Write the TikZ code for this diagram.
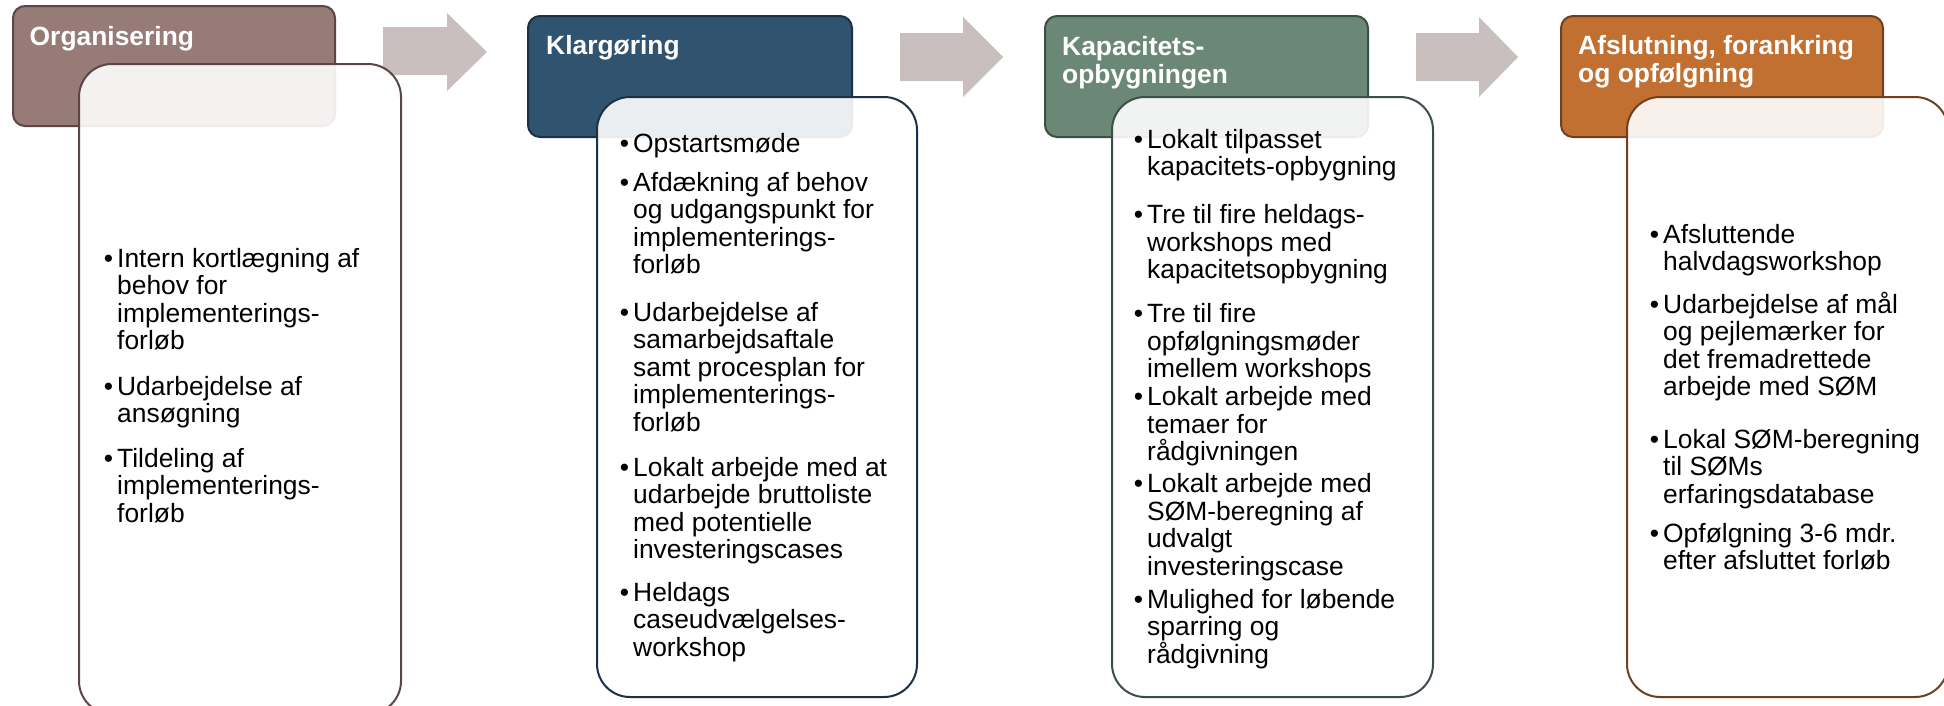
\documentclass[tikz,border=0pt]{standalone}
\usepackage{fontspec}
\setmainfont{Liberation Sans}
\definecolor{aFill}{HTML}{977B77}
\definecolor{aLine}{HTML}{5A4744}
\definecolor{bFill}{HTML}{30536F}
\definecolor{bLine}{HTML}{1C3145}
\definecolor{cFill}{HTML}{6B8877}
\definecolor{cLine}{HTML}{3D4E45}
\definecolor{dFill}{HTML}{C17031}
\definecolor{dLine}{HTML}{6D4020}
\definecolor{arrowC}{HTML}{C9BFBE}
\newcommand\itm[1]{\vtop{\baselineskip=27.6pt\lineskiplimit=-60pt\lineskip=0pt #1}}
\newcommand\hitm[1]{\vtop{\baselineskip=28pt\lineskiplimit=-60pt\lineskip=0pt #1}}
\newcommand\lin[1]{\hbox{#1}}
\newcommand\bul{\llap{\textbullet\hspace{4pt}}}
\tikzset{
  hdr/.style={rectangle, rounded corners=12pt, minimum width=323pt, minimum height=121pt, inner sep=0pt, line width=2pt},
  bodybox/.style={rectangle, rounded corners=33pt, minimum width=321pt, minimum height=600pt, inner sep=0pt, line width=2pt, fill=white, fill opacity=0.9},
  blockarrow/.style={fill=arrowC},
  txt/.style={anchor=base west, inner sep=0pt, font=\fontsize{26.4pt}{27.6pt}\selectfont},
  htxt/.style={anchor=base west, inner sep=0pt, text=white, font=\fontsize{26.4pt}{28pt}\selectfont\bfseries}
}
\begin{document}
\begin{tikzpicture}[x=1pt,y=-1pt]
\clip (0,0) rectangle (1944,705);
\fill[white] (0,0) rectangle (1944,705);

% block arrows
\fill[blockarrow] (383,27) -- (447,27) -- (447,13) -- (487,52) -- (447,91) -- (447,75) -- (383,75) -- cycle;
\fill[blockarrow] (900,33) -- (963,33) -- (963,17) -- (1003,57) -- (963,97) -- (963,81) -- (900,81) -- cycle;
\fill[blockarrow] (1416,33) -- (1479,33) -- (1479,17) -- (1518,57) -- (1479,97) -- (1479,81) -- (1416,81) -- cycle;

% headers
\node[hdr, fill=aFill, draw=aLine, minimum width=322pt, minimum height=120pt] (h1) at (174,66) {};
\node[hdr, fill=bFill, draw=bLine, minimum width=324pt] (h2) at (690,76.5) {};
\node[hdr, fill=cFill, draw=cLine] (h3) at (1206.5,76.5) {};
\node[hdr, fill=dFill, draw=dLine, minimum width=322pt] (h4) at (1722,76.5) {};

% bodies
\node[bodybox, draw=aLine, minimum width=322pt, minimum height=650pt] (b1) at (240,389) {};
\node[bodybox, draw=bLine, minimum width=320pt] (b2) at (757,397) {};
\node[bodybox, draw=cLine] (b3) at (1272.5,397) {};
\node[bodybox, draw=dLine] (b4) at (1787.5,397) {};

% header texts
\node[htxt] (ht1) at (29.5,45) {\hitm{\lin{Organisering}}};
\node[htxt] (ht2) at (546,54) {\hitm{\lin{Klargøring}}};
\node[htxt] (ht3) at (1062,55) {\hitm{\lin{Kapacitets-}\lin{opbygningen}}};
\node[htxt] (ht4) at (1578,54) {\hitm{\lin{Afslutning, forankring}\lin{og opfølgning}}};

% column 1
\node[txt] (a1) at (117,267) {\itm{\lin{\bul Intern kortlægning af}\lin{behov for}\lin{implementerings-}\lin{forløb}}};
\node[txt] (a2) at (117,395) {\itm{\lin{\bul Udarbejdelse af}\lin{ansøgning}}};
\node[txt] (a3) at (117,467) {\itm{\lin{\bul Tildeling af}\lin{implementerings-}\lin{forløb}}};

% column 2
\node[txt] (k1) at (633,152) {\itm{\lin{\bul Opstartsmøde}}};
\node[txt] (k2) at (633,191) {\itm{\lin{\bul Afdækning af behov}\lin{og udgangspunkt for}\lin{implementerings-}\lin{forløb}}};
\node[txt] (k3) at (633,321) {\itm{\lin{\bul Udarbejdelse af}\lin{samarbejdsaftale}\lin{samt procesplan for}\lin{implementerings-}\lin{forløb}}};
\node[txt] (k4) at (633,476) {\itm{\lin{\bul Lokalt arbejde med at}\lin{udarbejde bruttoliste}\lin{med potentielle}\lin{investeringscases}}};
\node[txt] (k5) at (633,601) {\itm{\lin{\bul Heldags}\lin{caseudvælgelses-}\lin{workshop}}};

% column 3
\node[txt] (p1) at (1147,148) {\itm{\lin{\bul Lokalt tilpasset}\lin{kapacitets-opbygning}}};
\node[txt] (p2) at (1147,223.5) {\itm{\lin{\bul Tre til fire heldags-}\lin{workshops med}\lin{kapacitetsopbygning}}};
\node[txt] (p3) at (1147,322.7) {\itm{\lin{\bul Tre til fire}\lin{opfølgningsmøder}\lin{imellem workshops}}};
\node[txt] (p4) at (1147,405.7) {\itm{\lin{\bul Lokalt arbejde med}\lin{temaer for}\lin{rådgivningen}}};
\node[txt] (p5) at (1147,492.5) {\itm{\lin{\bul Lokalt arbejde med}\lin{SØM-beregning af}\lin{udvalgt}\lin{investeringscase}}};
\node[txt] (p6) at (1147,608) {\itm{\lin{\bul Mulighed for løbende}\lin{sparring og}\lin{rådgivning}}};

% column 4
\node[txt] (f1) at (1663,243) {\itm{\lin{\bul Afsluttende}\lin{halvdagsworkshop}}};
\node[txt] (f2) at (1663,313) {\itm{\lin{\bul Udarbejdelse af mål}\lin{og pejlemærker for}\lin{det fremadrettede}\lin{arbejde med SØM}}};
\node[txt] (f3) at (1663,448) {\itm{\lin{\bul Lokal SØM-beregning}\lin{til SØMs}\lin{erfaringsdatabase}}};
\node[txt] (f4) at (1663,542) {\itm{\lin{\bul Opfølgning 3-6 mdr.}\lin{efter afsluttet forløb}}};
\end{tikzpicture}
\end{document}
